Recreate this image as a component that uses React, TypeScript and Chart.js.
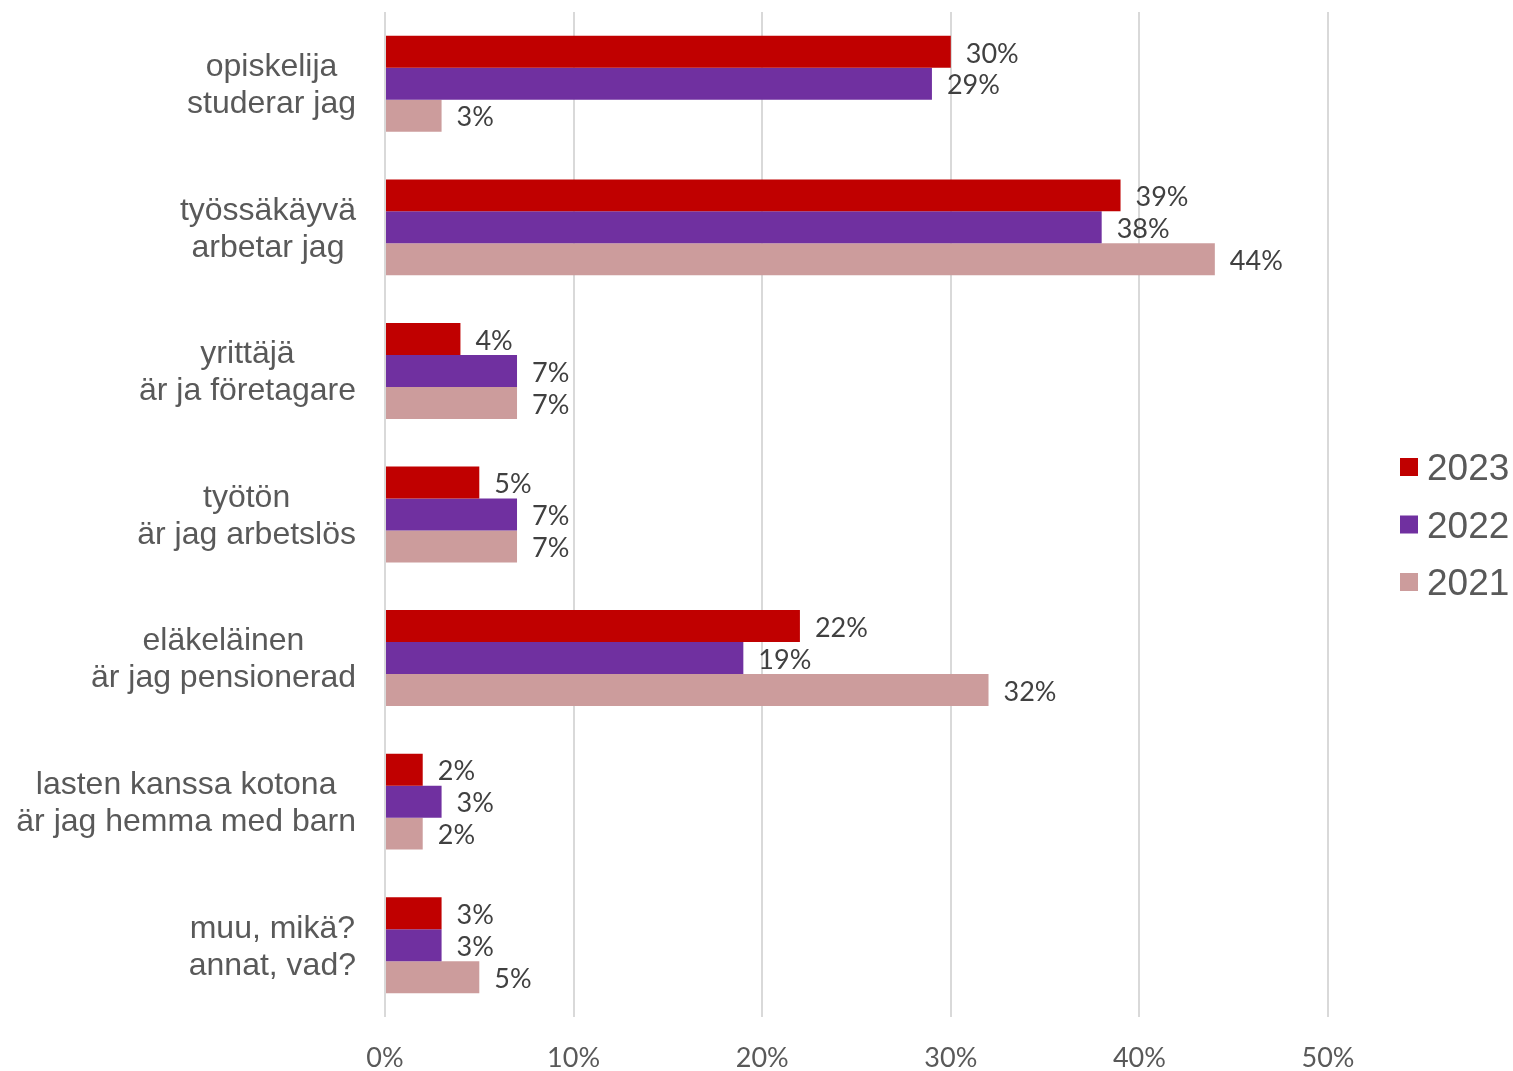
import React, { useEffect, useRef } from "react";
import { Chart, registerables } from "chart.js";

Chart.register(...registerables);

const categories: string[][] = [
  ["opiskelija", "studerar jag"],
  ["työssäkäyvä", "arbetar jag"],
  ["yrittäjä", "är ja företagare"],
  ["työtön", "är jag arbetslös"],
  ["eläkeläinen", "är jag pensionerad"],
  ["lasten kanssa kotona", "är jag hemma med barn"],
  ["muu, mikä?", "annat, vad?"],
];
const seriesLabels = ["2023", "2022", "2021"];
const values2023 = [30, 39, 4, 5, 22, 2, 3];
const values2022 = [29, 38, 7, 7, 19, 3, 3];
const values2021 = [3, 44, 7, 7, 32, 2, 5];
const seriesColors = ["#C00000", "#7030A0", "#CC9C9C"];
const xTickMax = 50;
const xTickStep = 10;

const catLabelPlugin = {
  id: "catLabels",
  afterDraw(chart: any) {
    const ctx = chart.ctx;
    const yScale = chart.scales.y;
    ctx.save();
    ctx.font = '32px "Liberation Sans", Arial, sans-serif';
    ctx.fillStyle = "#595959";
    ctx.textAlign = "center";
    ctx.textBaseline = "middle";
    const rightEdge = chart.chartArea.left - 29;
    const lh = 37;
    categories.forEach((lines, i) => {
      const maxW = Math.max(...lines.map((l) => ctx.measureText(l).width));
      const cx = rightEdge - maxW / 2;
      const yc = yScale.getPixelForValue(i) + 2;
      const y0 = yc - ((lines.length - 1) * lh) / 2;
      lines.forEach((l, j) => ctx.fillText(l, cx, y0 + j * lh));
    });
    ctx.restore();
  },
};

const dataLabelPlugin = {
  id: "dataLabels",
  afterDatasetsDraw(chart: any) {
    const ctx = chart.ctx;
    ctx.save();
    ctx.font = '27px Lato, "Open Sans", sans-serif';
    ctx.fillStyle = "#404040";
    ctx.textAlign = "left";
    ctx.textBaseline = "middle";
    chart.data.datasets.forEach((ds: any, di: number) => {
      const meta = chart.getDatasetMeta(di);
      meta.data.forEach((el: any, i: number) => {
        ctx.fillText(ds.data[i] + "%", el.x + 15, el.y + 2);
      });
    });
    ctx.restore();
  },
};

const legendPlugin = {
  id: "customLegend",
  afterDraw(chart: any) {
    const ctx = chart.ctx;
    ctx.save();
    ctx.font = '37px "Liberation Sans", Arial, sans-serif';
    ctx.textAlign = "left";
    ctx.textBaseline = "middle";
    const startY = 467;
    const gap = 57.5;
    chart.data.datasets.forEach((ds: any, i: number) => {
      const y = startY + i * gap;
      ctx.fillStyle = ds.backgroundColor;
      ctx.fillRect(1400, y - 9, 18, 18);
      ctx.fillStyle = "#595959";
      ctx.fillText(ds.label, 1427, y + 3);
    });
    ctx.restore();
  },
};

export default function App() {
  const canvasRef = useRef<HTMLCanvasElement | null>(null);

  useEffect(() => {
    if (!canvasRef.current) return;
    const datasetsValues = [values2023, values2022, values2021];
    const chart = new Chart(canvasRef.current, {
      type: "bar",
      data: {
        labels: categories.map((c) => c.join(" ")),
        datasets: datasetsValues.map((vals, i) => ({
          label: seriesLabels[i],
          data: vals,
          backgroundColor: seriesColors[i],
          borderWidth: 0,
          barPercentage: 1,
          categoryPercentage: 0.668,
        })),
      },
      options: {
        indexAxis: "y",
        responsive: false,
        animation: false,
        layout: { padding: { top: 12, right: 185, left: 0, bottom: 0 } },
        plugins: {
          legend: { display: false },
          tooltip: { enabled: false },
        },
        scales: {
          x: {
            min: 0,
            max: xTickMax,
            ticks: {
              stepSize: xTickStep,
              callback: (v: any) => v + "%",
              font: { family: 'Lato, "Open Sans", sans-serif', size: 27 },
              color: "#595959",
              padding: 25,
            },
            grid: { color: "#d9d9d9", lineWidth: 2, drawTicks: false },
            border: { display: false },
            afterFit: (scale: any) => {
              scale.height = 54;
            },
          },
          y: {
            ticks: { display: false },
            grid: { display: false },
            border: { display: false },
            afterFit: (scale: any) => {
              scale.width = 385;
            },
          },
        },
      },
      plugins: [catLabelPlugin, dataLabelPlugin, legendPlugin],
    } as any);
    return () => chart.destroy();
  }, []);

  return (
    <div style={{ position: "absolute", left: 0, top: 0, width: 1513, height: 1071, background: "#fff" }}>
      <canvas ref={canvasRef} width={1513} height={1071} style={{ display: "block" }} />
    </div>
  );
}
